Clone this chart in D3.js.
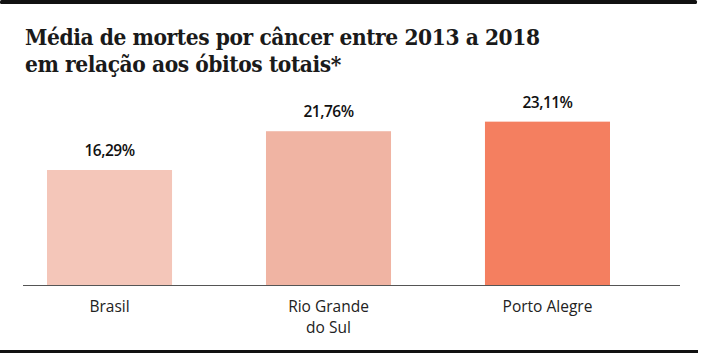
<!DOCTYPE html>
<html><head><meta charset="utf-8">
<script src="https://cdn.jsdelivr.net/npm/d3@7"></script>
<style>
html,body{margin:0;padding:0;background:#fff;}
svg{display:block;}
</style></head>
<body>
<script>
const titleLines = ["Média de mortes por câncer entre 2013 a 2018", "em relação aos óbitos totais*"];
const categories = ["Brasil", "Rio Grande do Sul", "Porto Alegre"];
const categoryLines = [["Brasil"], ["Rio Grande", "do Sul"], ["Porto Alegre"]];
const values = [16.29, 21.76, 23.11];
const valueLabels = ["16,29%", "21,76%", "23,11%"];
const colors = ["#f4c6b9", "#f0b4a3", "#f47f60"];

const W = 702, H = 357;
const svg = d3.select("body").append("svg").attr("width", W).attr("height", H);

// frame lines
svg.append("rect").attr("x", 0).attr("y", 0).attr("width", 697).attr("height", 4).attr("rx", 1.5).attr("fill", "#111");
svg.append("rect").attr("x", 0).attr("y", 350).attr("width", 698).attr("height", 3).attr("fill", "#111");

// title
const title = svg.append("text")
  .attr("font-family", "'DejaVu Serif Condensed', 'DejaVu Serif', serif")
  .attr("font-weight", "bold")
  .attr("font-size", 22.5)
  .attr("fill", "#1a1a1a");
titleLines.forEach((t, i) => {
  title.append("tspan").attr("x", 25).attr("y", 45 + i * 27).text(t);
});
// fit first line to width of reference via letter spacing
const first = titleLines[0];
const tl = title.select("tspan").node().getComputedTextLength();
const target = 515;
if (tl > 0) title.attr("letter-spacing", (target - tl) / (first.length - 1));

const baseY = 285.5;
const x = d3.scaleBand().domain(categories).range([47, 610]).paddingInner(0.429).paddingOuter(0);
const y = d3.scaleLinear().domain([0, 25]).range([baseY, baseY - 7.09 * 25]);

svg.selectAll("rect.bar").data(values).join("rect")
  .attr("class", "bar")
  .attr("x", (d, i) => x(categories[i]))
  .attr("width", x.bandwidth())
  .attr("y", d => y(d))
  .attr("height", d => y(0) - y(d))
  .attr("fill", (d, i) => colors[i]);

svg.selectAll("text.val").data(values).join("text")
  .attr("class", "val")
  .attr("x", (d, i) => x(categories[i]) + x.bandwidth() / 2)
  .attr("y", d => y(d) - 14)
  .attr("text-anchor", "middle")
  .attr("font-family", "'Open Sans', sans-serif")
  .attr("font-weight", 600)
  .attr("font-size", 15.5)
  .attr("letter-spacing", -0.5)
  .attr("fill", "#111")
  .text((d, i) => valueLabels[i]);

// baseline axis
const axis = d3.axisBottom(x).tickSize(0).tickFormat("");
const ax = svg.append("g").attr("transform", `translate(0,${baseY})`).call(axis);
ax.select(".domain").attr("d", `M23,0H680`).attr("stroke", "#555").attr("stroke-width", 1.2);

const catG = svg.selectAll("text.cat").data(categories).join("text")
  .attr("class", "cat")
  .attr("text-anchor", "middle")
  .attr("font-family", "'Open Sans', sans-serif")
  .attr("font-size", 15.5)
  .attr("fill", "#222");
catG.each(function(c, i) {
  const t = d3.select(this);
  categoryLines[i].forEach((ln, j) => {
    t.append("tspan").attr("x", x(c) + x.bandwidth() / 2).attr("y", 312 + j * 21).text(ln);
  });
});
</script>
</body></html>
